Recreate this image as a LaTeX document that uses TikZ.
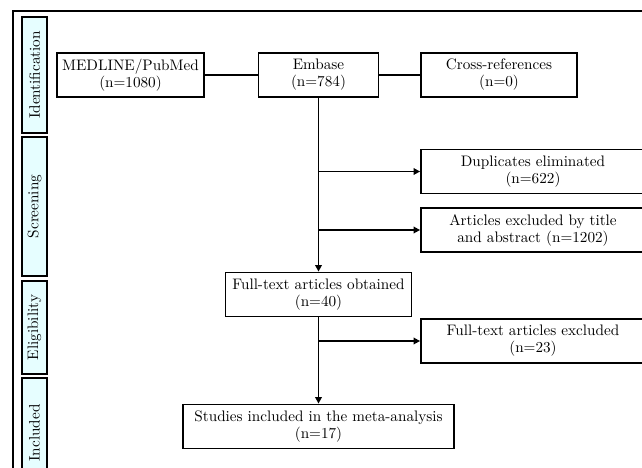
\documentclass[tikz,border=0pt]{standalone}
\usepackage{fontspec}
\setmainfont{lmroman10-regular.otf}
\usetikzlibrary{arrows.meta}
\definecolor{stagefill}{HTML}{E6FEFF}
\begin{document}
\begin{tikzpicture}[x=1pt,y=-1pt,
  every node/.style={font=\fontsize{15.2}{17}\selectfont},
  box/.style={draw,line width=1.8pt,align=center,inner sep=0pt,minimum height=44pt},
  stage/.style={draw,line width=1.8pt,fill=stagefill,rotate=90,inner sep=0pt,minimum height=25pt},
  conn/.style={line width=1.7pt},
  arr/.style={line width=1.7pt,-{Triangle[length=6.5pt,width=6.5pt]}}]
\clip (0,0) rectangle (642,468);
\draw[line width=1.3pt] (13,480) -- (13,11) -- (660,11);
% stage boxes
\node[stage,minimum width=116pt] (id) at (34.5,75) {Identification};
\node[stage,minimum width=139pt] (sc) at (34.5,206.5) {Screening};
\node[stage,minimum width=93pt] (el) at (34.5,327.5) {Eligibility};
\node[stage,minimum width=110pt] (in) at (34.5,433) {Included};
% boxes
\node[box,minimum width=147pt] (med) at (130.5,75) {MEDLINE/PubMed\\(n=1080)};
\node[box,minimum width=120pt] (emb) at (318.5,75) {Embase\\(n=784)};
\node[box,minimum width=156pt] (cross) at (499,75) {Cross-references\\(n=0)};
\node[box,minimum width=224pt] (dup) at (533,171.5) {Duplicates eliminated\\(n=622)};
\node[box,minimum width=224pt] (excl) at (533,230) {Articles excluded by title\\and abstract (n=1202)};
\node[box,minimum width=186pt] (full) at (318.5,294.5) {Full-text articles obtained\\(n=40)};
\node[box,minimum width=224pt] (fexcl) at (533,341) {Full-text articles excluded\\(n=23)};
\node[box,minimum width=271pt] (stud) at (318.5,426.5) {Studies included in the meta-analysis\\(n=17)};
% connectors
\draw[conn] (med) -- (emb);
\draw[conn] (emb) -- (cross);
\coordinate (b1) at (318.5,171.5);
\coordinate (b2) at (318.5,230);
\coordinate (b3) at (318.5,341);
\draw[arr] (emb) -- (full);
\draw[arr] (b1) -- (dup);
\draw[arr] (b2) -- (excl);
\draw[arr] (full) -- (stud);
\draw[arr] (b3) -- (fexcl);
\end{tikzpicture}
\end{document}
